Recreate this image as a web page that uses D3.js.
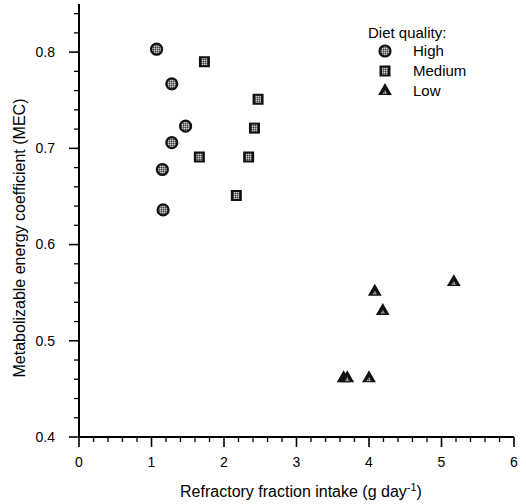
<!DOCTYPE html>
<html>
<head>
<meta charset="utf-8">
<script src="https://cdn.jsdelivr.net/npm/d3@7"></script>
<style>
  body { margin: 0; background: #fff; }
  svg text { font-family: Arial, "Liberation Sans", sans-serif; fill: #000; }
</style>
</head>
<body>
<div id="chart"></div>
<script>
// Data: refractory fraction intake (g/day) vs MEC
const highX = [1.07, 1.28, 1.47, 1.28, 1.15, 1.16];
const highY = [0.803, 0.767, 0.723, 0.706, 0.678, 0.636];
const mediumX = [1.73, 2.47, 2.42, 1.66, 2.34, 2.17];
const mediumY = [0.790, 0.751, 0.721, 0.691, 0.691, 0.651];
const lowX = [5.17, 4.08, 4.19, 3.65, 3.70, 4.00];
const lowY = [0.561, 0.551, 0.531, 0.461, 0.461, 0.461];

const groups = ['High', 'Medium', 'Low'];
const xTicks = [0, 1, 2, 3, 4, 5, 6];
const yTicks = [0.4, 0.5, 0.6, 0.7, 0.8];

const width = 526, height = 504;
const margin = { top: 4, right: 12, bottom: 67, left: 79 };

const svg = d3.select('#chart').append('svg')
    .attr('width', width)
    .attr('height', height);

// grey speckled fill for the markers
const defs = svg.append('defs');
const pat = defs.append('pattern')
    .attr('id', 'speckle')
    .attr('width', 2).attr('height', 2)
    .attr('patternUnits', 'userSpaceOnUse');
pat.append('rect').attr('width', 2).attr('height', 2).attr('fill', '#808080');
pat.append('rect').attr('width', 1).attr('height', 1).attr('fill', '#d0d0d0');
pat.append('rect').attr('x', 1).attr('y', 1).attr('width', 1).attr('height', 1).attr('fill', '#444');

const x = d3.scaleLinear().domain([0, 6]).range([margin.left, width - margin.right]);
const y = d3.scaleLinear().domain([0.4, 0.85]).range([height - margin.bottom, margin.top]);

const g = svg.append('g');

// axis lines
const x0 = x(0), y0 = y(0.4);
g.append('line')
    .attr('x1', x0).attr('x2', x0)
    .attr('y1', y(0.85)).attr('y2', y0 + 1)
    .attr('stroke', '#000').attr('stroke-width', 2);
g.append('line')
    .attr('x1', x0 - 1).attr('x2', x(6))
    .attr('y1', y0).attr('y2', y0)
    .attr('stroke', '#000').attr('stroke-width', 2);

// x ticks: minor every 0.2
d3.range(0, 30.5, 1).map(i => i * 0.2).forEach((v, i) => {
    const major = i % 5 === 0;
    g.append('line')
        .attr('x1', x(v)).attr('x2', x(v))
        .attr('y1', y0).attr('y2', y0 + (major ? 10 : 5))
        .attr('stroke', '#000').attr('stroke-width', major ? 1.6 : 1.3);
});
xTicks.forEach(v => {
    g.append('text')
        .attr('x', x(v)).attr('y', y0 + 30)
        .attr('text-anchor', 'middle')
        .attr('font-size', '14px')
        .text(v);
});

// y ticks: minor every 0.02
d3.range(0, 22.5, 1).map(i => 0.4 + i * 0.02).forEach((v, i) => {
    const major = i % 5 === 0;
    g.append('line')
        .attr('x1', x0).attr('x2', x0 - (major ? 10 : 5))
        .attr('y1', y(v)).attr('y2', y(v))
        .attr('stroke', '#000').attr('stroke-width', major ? 1.6 : 1.3);
});
yTicks.forEach(v => {
    g.append('text')
        .attr('x', x0 - 24).attr('y', y(v))
        .attr('dy', '0.35em')
        .attr('text-anchor', 'end')
        .attr('font-size', '14px')
        .text(d3.format('.1f')(v));
});

// axis titles
const xt = g.append('text')
    .attr('x', 301)
    .attr('y', 497)
    .attr('text-anchor', 'middle')
    .attr('font-size', '16px');
xt.append('tspan').text('Refractory fraction intake (g day');
xt.append('tspan').attr('dy', -6).attr('font-size', '11px').text('-1');
xt.append('tspan').attr('dy', 6).text(')');

g.append('text')
    .attr('transform', `translate(25, 238) rotate(-90)`)
    .attr('text-anchor', 'middle')
    .attr('font-size', '16px')
    .text('Metabolizable energy coefficient (MEC)');

// marker drawing
function marker(sel, type, cx, cy) {
    if (type === 'High') {
        sel.append('circle')
            .attr('cx', cx).attr('cy', cy).attr('r', 5.5)
            .attr('fill', 'url(#speckle)')
            .attr('stroke', '#111').attr('stroke-width', 2.2);
    } else if (type === 'Medium') {
        sel.append('rect')
            .attr('x', cx - 5.5).attr('y', cy - 5.5)
            .attr('width', 11).attr('height', 11)
            .attr('fill', '#111');
        sel.append('rect')
            .attr('x', cx - 3).attr('y', cy - 3.5)
            .attr('width', 6).attr('height', 7)
            .attr('fill', 'url(#speckle)');
    } else {
        const s = d3.symbol().type(d3.symbolTriangle).size(82);
        sel.append('path')
            .attr('transform', `translate(${cx},${cy})`)
            .attr('d', s())
            .attr('fill', '#111');
        sel.append('path')
            .attr('transform', `translate(${cx},${cy + 1.5})`)
            .attr('d', d3.symbol().type(d3.symbolTriangle).size(10)())
            .attr('fill', 'url(#speckle)');
    }
}

const series = [
    { key: 'High', xs: highX, ys: highY },
    { key: 'Medium', xs: mediumX, ys: mediumY },
    { key: 'Low', xs: lowX, ys: lowY },
];
const pts = g.append('g');
series.forEach(s => {
    s.xs.forEach((v, i) => marker(pts, s.key, x(v), y(s.ys[i])));
});

// legend
const lg = g.append('g');
lg.append('text')
    .attr('x', 368).attr('y', 38)
    .attr('font-size', '15px')
    .text('Diet quality:');
groups.forEach((k, i) => {
    const ly = 51 + i * 20;
    marker(lg, k, 385, ly);
    lg.append('text')
        .attr('x', 413).attr('y', ly)
        .attr('dy', '0.35em')
        .attr('font-size', '15px')
        .text(k);
});
</script>
</body>
</html>
